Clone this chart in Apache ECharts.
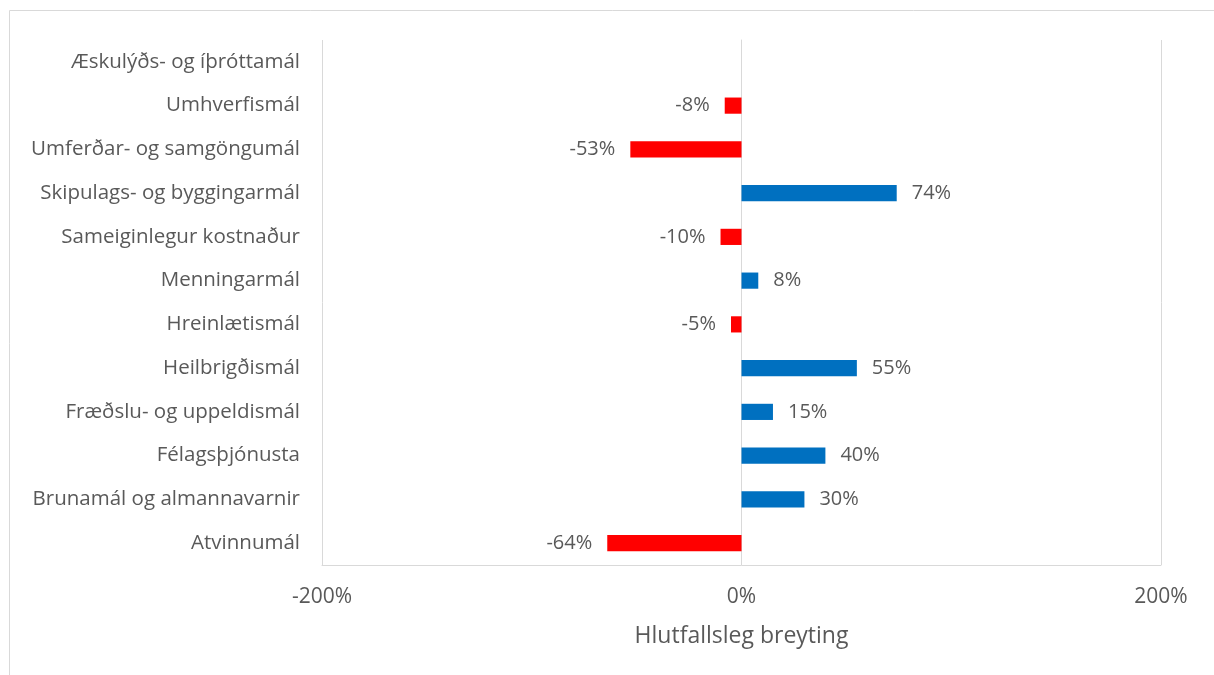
<!DOCTYPE html>
<html><head><meta charset="utf-8">
<script src="https://cdn.jsdelivr.net/npm/echarts@6/dist/echarts.min.js"></script>
<style>html,body{margin:0;padding:0;background:#fff}#c{width:1214px;height:675px}</style>
</head><body><div id="c"></div>
<script>
var categories = ["Atvinnumál","Brunamál og almannavarnir","Félagsþjónusta","Fræðslu- og uppeldismál","Heilbrigðismál","Hreinlætismál","Menningarmál","Sameiginlegur kostnaður","Skipulags- og byggingarmál","Umferðar- og samgöngumál","Umhverfismál","Æskulýðs- og íþróttamál"];
var values = [-64,30,40,15,55,-5,8,-10,74,-53,-8,0];
var xTicks = [-200,0,200];

var FONT = "Open Sans";
var TXT = "#595959";
var chart = echarts.init(document.getElementById('c'));
var data = values.map(function(v){
  return {
    value: v,
    itemStyle: {color: v < 0 ? '#FF0000' : '#0070C0'},
    label: {show: v !== 0, position: v < 0 ? 'left' : 'right'}
  };
});
chart.setOption({
  animation:false,
  graphic:[{type:'rect',shape:{x:9.5,y:10.5,width:1220,height:700},style:{fill:'none',stroke:'#d9d9d9',lineWidth:1}}],
  grid:{left:322,right:53,top:40,bottom:110},
  xAxis:{type:'value',min:xTicks[0],max:xTicks[xTicks.length-1],interval:200,
    name:'Hlutfallsleg breyting',nameLocation:'middle',nameGap:60,
    nameTextStyle:{fontFamily:FONT,fontSize:23,color:TXT},
    axisLine:{show:true,lineStyle:{color:'#d9d9d9'}},axisTick:{show:false},
    axisLabel:{fontFamily:FONT,fontSize:21,color:TXT,margin:22,formatter:function(v){return v+'%';}},
    splitLine:{show:true,lineStyle:{color:'#d9d9d9'}}},
  yAxis:{type:'category',data:categories,
    axisLine:{show:true,onZero:true,lineStyle:{color:'#d9d9d9'}},axisTick:{show:false},
    axisLabel:{fontFamily:FONT,fontSize:20.5,color:TXT,margin:22}},
  series:[{type:'bar',data:data,barWidth:'37%',
    label:{fontFamily:FONT,fontSize:20,color:TXT,distance:15,formatter:function(p){return p.value+'%';}}}]
});
</script></body></html>
